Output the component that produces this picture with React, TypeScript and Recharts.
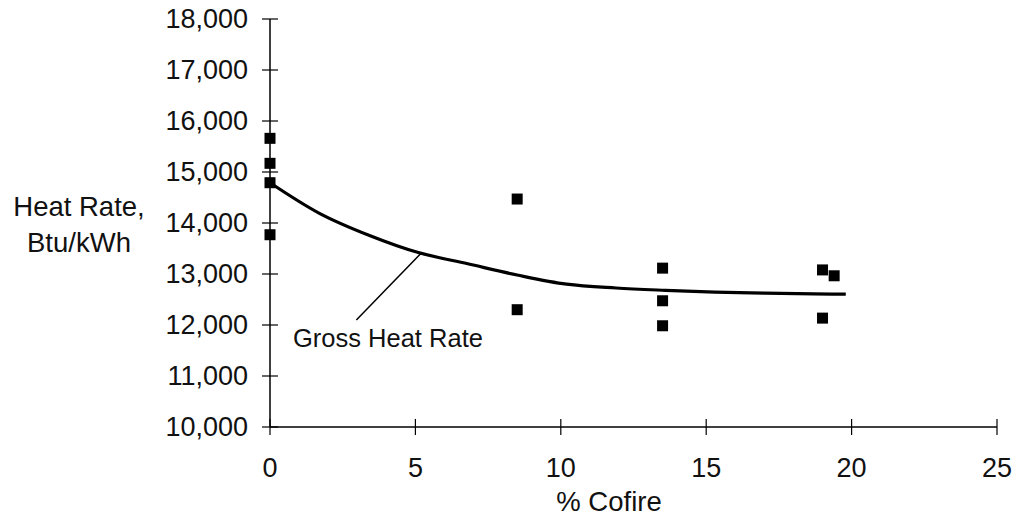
import React from 'react';
import {
  ComposedChart,
  Line,
  Scatter,
  XAxis,
  YAxis,
  ReferenceLine,
} from 'recharts';

// measured heat rate at each cofire percentage
const cofirePct = [0, 0, 0, 0, 8.5, 8.5, 13.5, 13.5, 13.5, 19.0, 19.4, 19.0];
const heatRate = [15660, 15170, 14790, 13770, 14470, 12300, 13115, 12475, 11985, 13080, 12965, 12135];

// fitted "Gross Heat Rate" curve
const fitPct = [0, 1.7, 3.4, 5.1, 6.8, 8.5, 10.2, 11.9, 13.6, 15.3, 17.0, 18.7, 19.8];
const fitRate = [14790, 14190, 13760, 13420, 13200, 12980, 12800, 12725, 12680, 12645, 12625, 12610, 12605];

const xTicks = [0, 5, 10, 15, 20, 25];
const yTicks = [10000, 11000, 12000, 13000, 14000, 15000, 16000, 17000, 18000];

const points = cofirePct.map((x, i) => ({ x, y: heatRate[i] }));
const curve = fitPct.map((x, i) => ({ x, y: fitRate[i] }));

// leader line from label to curve, in data units
const leader = [
  { x: 2.97, y: 12100 },
  { x: 5.2, y: 13410 },
];

const FONT = '"Liberation Sans", Arial, sans-serif';
const INK = '#000';

const YTick = (props: any) => {
  const { x, y, payload } = props;
  return (
    <g>
      <line x1={x - 8} x2={x + 8} y1={y} y2={y} stroke={INK} strokeWidth={1.2} />
      <text x={x - 22} y={y} dy="0.35em" textAnchor="end" fontFamily={FONT} fontSize={27} fill="#111">
        {Number(payload.value).toLocaleString('en-US')}
      </text>
    </g>
  );
};

const XTick = (props: any) => {
  const { x, y, payload } = props;
  return (
    <g>
      <line x1={x} x2={x} y1={y - 8} y2={y + 8} stroke={INK} strokeWidth={1.2} />
      <text x={x} y={y + 50} textAnchor="middle" fontFamily={FONT} fontSize={27} fill="#111">
        {payload.value}
      </text>
    </g>
  );
};

const Square = (props: any) => {
  const { cx, cy } = props;
  return <rect x={cx - 5.5} y={cy - 5.5} width={11} height={11} fill={INK} />;
};

export default function App() {
  return (
    <div style={{ position: 'absolute', left: 0, top: 0, background: '#fff' }}>
      <ComposedChart
        width={1018}
        height={521}
        margin={{ top: 19, right: 21, bottom: 34, left: 170 }}
      >
        <XAxis
          dataKey="x"
          type="number"
          domain={[0, 25]}
          ticks={xTicks}
          height={60}
          stroke={INK}
          strokeWidth={1.5}
          tickLine={false}
          tickSize={0}
          tickMargin={0}
          tick={<XTick />}
          label={() => (
            <text x={609} y={511} textAnchor="middle" fontFamily={FONT} fontSize={27.5} fill="#111">
              % Cofire
            </text>
          )}
        />
        <YAxis
          type="number"
          domain={[10000, 18000]}
          ticks={yTicks}
          width={100}
          stroke={INK}
          strokeWidth={1.5}
          tickLine={false}
          tickSize={0}
          tickMargin={0}
          tick={<YTick />}
          label={() => (
            <text textAnchor="middle" fontFamily={FONT} fontSize={27.5} fill="#111">
              <tspan x={79} y={216}>Heat Rate,</tspan>
              <tspan x={79} y={252}>Btu/kWh</tspan>
            </text>
          )}
        />
        <ReferenceLine
          segment={leader}
          stroke={INK}
          strokeWidth={1.5}
          label={() => (
            <text x={293} y={347} fontFamily={FONT} fontSize={25.5} fill="#111">
              Gross Heat Rate
            </text>
          )}
        />
        <Line
          data={curve}
          dataKey="y"
          type="monotone"
          stroke={INK}
          strokeWidth={3.2}
          dot={false}
          activeDot={false}
          isAnimationActive={false}
        />
        <Scatter data={points} dataKey="y" shape={<Square />} isAnimationActive={false} />
      </ComposedChart>
    </div>
  );
}
